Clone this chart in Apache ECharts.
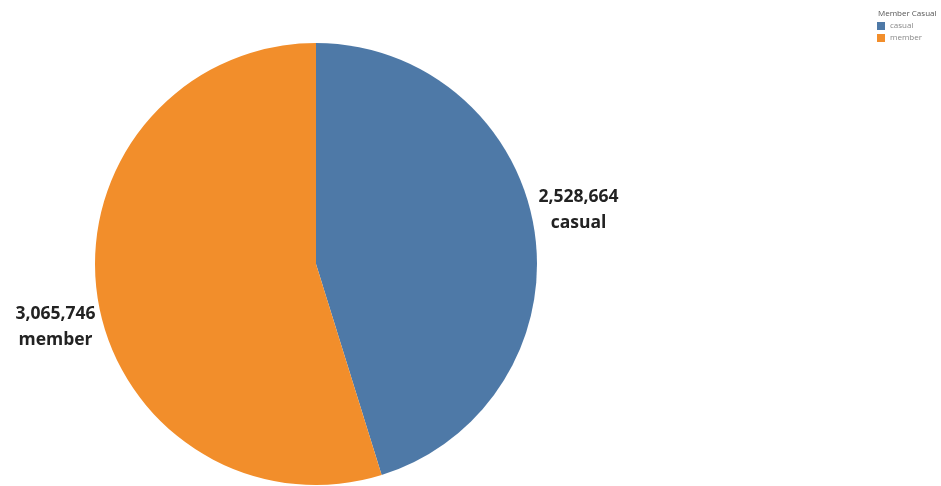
<!DOCTYPE html>
<html>
<head>
<meta charset="utf-8">
<script src="https://cdn.jsdelivr.net/npm/echarts@6/dist/echarts.min.js"></script>
<style>
  html, body { margin: 0; padding: 0; background: #ffffff; }
  #chart { width: 941px; height: 486px; }
</style>
</head>
<body>
<div id="chart"></div>
<script>
// Ride counts by rider type
const categories = ['casual', 'member'];
const rideCounts = [2528664, 3065746];
const sliceColors = ['#4e79a7', '#f28e2b'];
const legendTitle = 'Member Casual';

const fmt = n => n.toLocaleString('en-US');

const chart = echarts.init(document.getElementById('chart'), null, { renderer: 'canvas' });

chart.setOption({
  animation: false,
  backgroundColor: '#ffffff',
  color: sliceColors,
  title: {
    text: legendTitle,
    left: 878,
    top: 10,
    padding: 0,
    textStyle: { fontFamily: 'Open Sans', fontSize: 8, fontWeight: 'normal', color: '#555555' }
  },
  legend: {
    orient: 'vertical',
    left: 877,
    top: 22,
    padding: 0,
    itemWidth: 8,
    itemHeight: 8,
    itemGap: 4,
    icon: 'rect',
    selectedMode: false,
    textStyle: { fontFamily: 'Open Sans', fontSize: 8, color: '#888888' },
    data: categories
  },
  series: [{
    type: 'pie',
    center: [316, 264],
    radius: 221,
    startAngle: 90,
    clockwise: true,
    data: categories.map((c, i) => ({ name: c, value: rideCounts[i] })),
    itemStyle: { borderWidth: 0 },
    emphasis: { disabled: true },
    label: {
      show: true,
      position: 'outside',
      formatter: p => '{v|' + fmt(p.value) + '}\n{n|' + p.name + '}',
      rich: {
        v: { fontFamily: 'Open Sans', fontSize: 17.5, fontWeight: 'bold', color: '#222222', lineHeight: 26, align: 'center' },
        n: { fontFamily: 'Open Sans', fontSize: 17.5, fontWeight: 'bold', color: '#222222', lineHeight: 26, align: 'center' }
      }
    },
    labelLine: { show: false, length: 0, length2: 0 },
    labelLayout: p => (p.dataIndex === 0 ? { dy: -21, dx: -1 } : { dy: 30, dx: 3 })
  }]
});
</script>
</body>
</html>
